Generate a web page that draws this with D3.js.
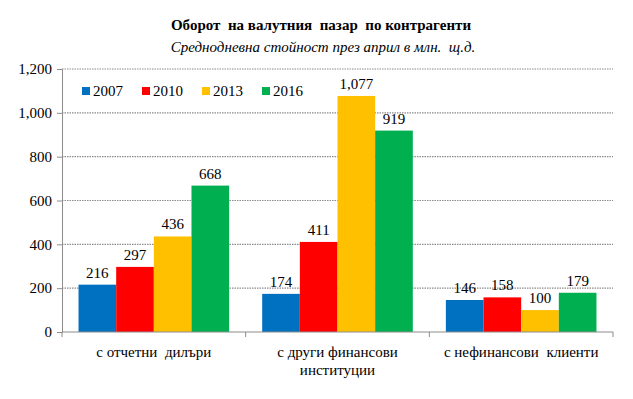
<!DOCTYPE html>
<html>
<head>
<meta charset="utf-8">
<script src="https://cdn.jsdelivr.net/npm/d3@7/dist/d3.min.js"></script>
<style>
  body { margin: 0; background: #fff; }
</style>
</head>
<body>
<svg id="chart" width="633" height="399" font-family="Times New Roman"></svg>
<script>
// DATA -------------------------------------------------------------------------
var categories = [["с отчетни  дилъри"], ["с други финансови", "институции"], ["с нефинансови  клиенти"]];
var series = ["2007", "2010", "2013", "2016"];
var values2007 = [216, 174, 146];
var values2010 = [297, 411, 158];
var values2013 = [436, 1077, 100];
var values2016 = [668, 919, 179];
var yTicks = [0, 200, 400, 600, 800, 1000, 1200];
var colors = ["#0070C0", "#FF0000", "#FFC000", "#00B050"];

var allValues = [values2007, values2010, values2013, values2016];
var FONT = "'Times New Roman'";

// keep the double spaces of the original labels
function keepSpaces(s) { return s.replace(/  /g, " \u00A0"); }

// LAYOUT -----------------------------------------------------------------------
var margin = {left: 62, right: 20, top: 69, bottom: 67};
var width = 633 - margin.left - margin.right,
    height = 399 - margin.top - margin.bottom;

var svg = d3.select("#chart");

// Titles
svg.append("text")
  .attr("x", 321).attr("y", 30)
  .attr("text-anchor", "middle")
  .style("font-family", FONT).style("font-weight", "bold").style("font-size", "15px")
  .text(keepSpaces("Оборот  на валутния  пазар  по контрагенти"));
svg.append("text")
  .attr("x", 323).attr("y", 52)
  .attr("text-anchor", "middle")
  .style("font-family", FONT).style("font-style", "italic").style("font-size", "15px")
  .text(keepSpaces("Среднодневна стойност през април в млн.  щ.д."));

var g = svg.append("g").attr("transform", "translate(" + margin.left + "," + margin.top + ")");

var x0 = d3.scaleBand().domain(d3.range(categories.length)).range([0, width]).paddingInner(0.18).paddingOuter(0.09);
var x1 = d3.scaleBand().domain(d3.range(series.length)).range([0, x0.bandwidth()]);
var y = d3.scaleLinear().domain([0, 1200]).range([height, 0]);

// Gridlines
g.selectAll(".grid").data(yTicks.slice(1)).enter().append("line")
  .attr("x1", 0).attr("x2", width)
  .attr("y1", function(d) { return y(d); }).attr("y2", function(d) { return y(d); })
  .attr("stroke", "#8c8c8c").attr("stroke-width", 1.2).attr("stroke-dasharray", "1.5,1");

// Y axis
var yAxis = g.append("g").call(d3.axisLeft(y).tickValues(yTicks).tickFormat(d3.format(",")).tickSize(5).tickPadding(5));
yAxis.attr("font-family", "Times New Roman").attr("font-size", 15);
yAxis.select(".domain").attr("stroke", "#8c8c8c");
yAxis.selectAll(".tick line").attr("stroke", "#8c8c8c");
yAxis.selectAll("text").style("font-family", FONT).style("font-size", "15px").attr("fill", "#000");

// Bars
var groups = g.selectAll(".grp").data(categories).enter().append("g")
  .attr("transform", function(d, i) { return "translate(" + x0(i) + ",0)"; });

groups.each(function(c, ci) {
  var grp = d3.select(this);
  series.forEach(function(s, si) {
    var v = allValues[si][ci];
    grp.append("rect")
      .attr("x", x1(si)).attr("width", x1.bandwidth())
      .attr("y", y(v)).attr("height", height - y(v))
      .attr("fill", colors[si]);
    grp.append("text")
      .attr("x", x1(si) + x1.bandwidth() / 2).attr("y", y(v) - 7)
      .attr("text-anchor", "middle")
      .style("font-family", FONT).style("font-size", "15px")
      .text(d3.format(",")(v));
  });
});

// X axis with boundary ticks
g.append("line").attr("x1", 0).attr("x2", width).attr("y1", height).attr("y2", height)
  .attr("stroke", "#8c8c8c");
var bounds = d3.range(categories.length + 1).map(function(i) { return width * i / categories.length; });
g.selectAll(".xt").data(bounds).enter().append("line")
  .attr("x1", function(d) { return d; }).attr("x2", function(d) { return d; })
  .attr("y1", height).attr("y2", height + 5).attr("stroke", "#8c8c8c");

// Category labels
groups.append("text")
  .attr("text-anchor", "middle")
  .style("font-family", FONT).style("font-size", "15px")
  .each(function(lines) {
    var t = d3.select(this);
    lines.forEach(function(l, li) {
      t.append("tspan").attr("x", x0.bandwidth() / 2).attr("y", height + 25 + li * 18).text(keepSpaces(l));
    });
  });

// Legend
var legend = g.append("g").attr("transform", "translate(20,22)");
var legendX = [0, 60, 120, 180];
series.forEach(function(s, i) {
  legend.append("rect").attr("x", legendX[i]).attr("y", -4).attr("width", 8).attr("height", 8).attr("fill", colors[i]);
  legend.append("text").attr("x", legendX[i] + 11).attr("y", 5)
    .style("font-family", FONT).style("font-size", "15px").text(s);
});
</script>
</body>
</html>
